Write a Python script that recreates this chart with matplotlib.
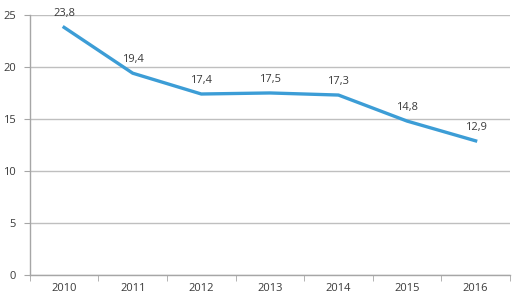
import matplotlib.pyplot as plt
import numpy as np

years = ["2010", "2011", "2012", "2013", "2014", "2015", "2016"]
values = [23.8, 19.4, 17.4, 17.5, 17.3, 14.8, 12.9]
labels = ["23,8", "19,4", "17,4", "17,5", "17,3", "14,8", "12,9"]

plt.rcParams['font.family'] = ['Open Sans', 'DejaVu Sans']
fig = plt.figure(figsize=(5.23, 3.04), dpi=100)
ax = fig.add_axes([0.057, 0.095, 0.918, 0.856])

x = np.arange(len(years))
ax.plot(x, values, color='#3C9DD6', lw=2.4, solid_joinstyle='round', zorder=3)
for xi, v, lab in zip(x, values, labels):
    ax.annotate(lab, (xi, v), xytext=(0, 6), textcoords='offset points',
                ha='center', va='bottom', fontsize=8, color='#3A3A3A')

ax.set_xlim(-0.5, len(years) - 0.5)
ax.set_ylim(0, 25)
ax.set_yticks(range(0, 26, 5))
ax.set_xticks(x)
ax.set_xticklabels(years)
ax.set_xticks(np.arange(-0.5, len(years), 1), minor=True)
ax.tick_params(axis='x', which='major', length=0, labelsize=8, colors='#3A3A3A', pad=6)
ax.tick_params(axis='x', which='minor', length=4, color='#A6A6A6', direction='out')
ax.tick_params(axis='y', length=4, color='#A6A6A6', labelsize=8, labelcolor='#3A3A3A', pad=6)
ax.grid(axis='y', color='#BFBFBF', lw=1)
ax.set_axisbelow(True)
for s in ['top', 'right']:
    ax.spines[s].set_visible(False)
for s in ['left', 'bottom']:
    ax.spines[s].set_color('#A6A6A6')
    ax.spines[s].set_linewidth(1)

fig.savefig('out.png', dpi=100)
